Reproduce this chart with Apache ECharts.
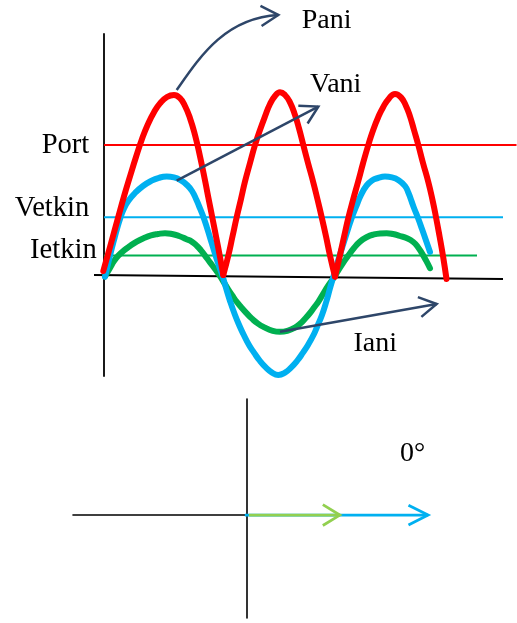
<!DOCTYPE html>
<html>
<head>
<meta charset="utf-8">
<script src="https://cdn.jsdelivr.net/npm/echarts/dist/echarts.min.js"></script>
<style>
html,body{margin:0;padding:0;background:#ffffff;}
#chart{width:517px;height:623px;}
</style>
</head>
<body>
<div id="chart"></div>
<script>
// ---------------- DATA (x: phase angle ωt in degrees, y: amplitude in arbitrary units) ----------------
// Instantaneous power p(t): three arches
const powerArch1 = [[-1.12,0.25],[9.6,1.45],[20.8,2.72],[32,3.98],[41.6,4.98],[51.2,5.95],[60.8,6.85],[70.4,7.6],[80,8.19],[89.6,8.63],[100.8,8.95],[112,9.05],[121.6,8.89],[129.6,8.5],[137.6,7.89],[145.6,7.05],[153.6,5.98],[161.6,4.78],[167.2,3.88],[172.8,3.0],[179.2,1.98],[185.6,0.95],[190.88,0.05]];
const powerArch2 = [[190.88,0.05],[198.88,1.02],[205.6,1.98],[212.32,2.94],[219.2,3.85],[225.6,4.72],[233.6,5.65],[241.6,6.55],[249.6,7.3],[257.6,7.98],[265.6,8.6],[273.6,9.0],[281.6,9.19],[289.6,9.05],[297.6,8.68],[305.6,8.05],[312,7.38],[318.88,6.55],[326.4,5.65],[334.88,4.68],[341.6,3.83],[348.32,2.94],[355.2,1.98],[361.6,1.02],[369.6,-0.03]];
const powerArch3 = [[369.6,-0.03],[377.6,1.05],[384,1.95],[390.88,2.9],[398.4,3.8],[406.88,4.75],[414.4,5.63],[422.88,6.55],[430.4,7.28],[438.88,7.95],[446.4,8.43],[456,8.88],[465.6,9.1],[475.2,8.93],[483.2,8.5],[489.6,7.98],[496,7.3],[502.88,6.55],[510.4,5.65],[518.88,4.7],[525.6,3.8],[531.2,2.94],[536.8,2.0],[542.4,1.0],[548,-0.15]];
// Instantaneous voltage v(t)
const voltage = [[1.6,-0.03],[6.4,0.6],[11.2,1.23],[16,1.8],[20.8,2.35],[25.6,2.85],[32,3.38],[40,3.8],[49.6,4.15],[62.4,4.5],[75.2,4.75],[88,4.91],[100.32,4.97],[112,4.93],[123.2,4.78],[132.8,4.55],[140.8,4.25],[148,3.8],[153.6,3.38],[159.2,2.94],[165.6,2.33],[172,1.68],[178.4,1.03],[184,0.5],[189.6,0],[195.2,-0.6],[201.6,-1.25],[209.6,-1.95],[217.6,-2.55],[222.88,-2.9],[232,-3.45],[240,-3.83],[249.6,-4.25],[259.2,-4.58],[268.8,-4.83],[278.88,-4.95],[289.6,-4.83],[299.2,-4.58],[308.8,-4.25],[318.4,-3.83],[326.4,-3.45],[336,-2.9],[340.8,-2.55],[348.8,-1.95],[356,-1.25],[361.28,-0.65],[366.88,-0.05],[372.48,0.55],[377.92,1.1],[386.88,2.0],[396.32,2.9],[403.2,3.45],[411.2,4.05],[420.32,4.53],[428.8,4.78],[438.4,4.9],[449.6,4.97],[460.8,4.93],[472,4.78],[481.6,4.5],[487.2,4.15],[492.32,3.72],[496,3.4],[502.4,2.9],[508.8,2.35],[515.2,1.78],[521.6,1.2]];
// Instantaneous current i(t)
const current = [[1.6,-0.03],[9.6,0.4],[16,0.75],[22.88,1.02],[32,1.28],[41.6,1.5],[52.32,1.72],[64,1.9],[75.2,2.03],[86.4,2.1],[97.6,2.14],[108.8,2.1],[120,2.0],[131.2,1.85],[140.32,1.72],[148.8,1.5],[155.2,1.28],[161.6,1.02],[169.6,0.68],[177.6,0.35],[185.6,0],[192,-0.33],[198.4,-0.65],[205.6,-0.99],[212.32,-1.29],[219.2,-1.55],[227.2,-1.83],[236.32,-2.12],[246.4,-2.38],[257.6,-2.58],[268.8,-2.73],[281.6,-2.79],[294.4,-2.73],[305.6,-2.58],[315.2,-2.35],[321.6,-2.14],[329.6,-1.85],[336.8,-1.55],[342.88,-1.29],[350.4,-0.9],[358.4,-0.5],[366.88,-0.12],[374.4,0.25],[382.4,0.65],[390.88,1.02],[400,1.4],[409.6,1.72],[420.8,1.95],[432,2.08],[441.6,2.13],[452.32,2.14],[462.4,2.1],[473.6,2.0],[484.8,1.89],[494.88,1.7],[502.4,1.44],[508.8,1.13],[515.2,0.78],[521.6,0.39]];
// Effective (rms) levels
const levelNames  = ['Port', 'Vetkin', 'Ietkin'];
const levelValues = [6.55, 2.94, 1.02];
const levelEnds   = [660, 638.4, 596.8];
// Annotations of the instantaneous curves
const annotationNames = ['Pani', 'Vani', 'Iani'];
// Phasors (magnitude, angle in degrees)
const phasorNames  = ['V', 'I'];
const phasorMagnitudes = [4.95, 2.54];
const phasorAngles = [0, 0];
const phaseShiftLabel = '0°';

// ---------------- STYLE / LAYOUT ----------------
const FONT = '"Liberation Serif", "Times New Roman", serif';
const FS = 28;
const FS_LEVEL = 28.6;
const COL = {red:'#FF0000', blue:'#00B0F0', green:'#00B050', lightGreen:'#92D050', arrow:'#2E4669', axis:'#000000'};
const levelColors = [COL.red, COL.blue, COL.green];
const levelLabelOffsets = [[-14.7,0.5],[-14.7,-9],[-7.3,-5.4]];
const axisBaseline = [[-16,0.05],[638.4,-0.15]];   // slightly tilted time axis as drawn
// annotation arrow geometry in data coordinates (from point on curve, arrow tip, optional bezier controls, text offset px)
const annotationLayout = [
  {from:[116.3,9.3],  to:[278.9,13.05], ctrl:[[153.6,10.97],[193.6,12.9]], text:[23.4,5.8]},
  {from:[116.3,4.77], to:[342.9,8.47],  ctrl:null, text:[-8.3,-22.2]},
  {from:[281.6,-2.79], to:[532.3,-1.4], ctrl:null, text:[-83.3,39.7]}
];
const phasorColors = [COL.blue, COL.lightGreen];
const phaseLabelOffset = [-28, -61];

function chevron(tip, prev, len, ang, color, lw) {
  const dx = tip[0]-prev[0], dy = tip[1]-prev[1];
  const d = Math.hypot(dx, dy) || 1;
  const bx = -dx/d, by = -dy/d;
  const c = Math.cos(ang), s = Math.sin(ang);
  const a1 = [tip[0] + len*(bx*c - by*s), tip[1] + len*(bx*s + by*c)];
  const a2 = [tip[0] + len*(bx*c + by*s), tip[1] + len*(-bx*s + by*c)];
  return {type:'polyline', shape:{points:[a1, tip, a2]}, style:{stroke:color, lineWidth:lw, fill:null, lineJoin:'miter', lineCap:'butt'}};
}

const axisHidden = {axisTick:{show:false}, axisLabel:{show:false}, splitLine:{show:false}};

const series = [];
// tilted time axis
series.push({type:'line', name:'axis', xAxisIndex:0, yAxisIndex:0, data:axisBaseline, symbol:'none', clip:false, silent:true,
  lineStyle:{color:COL.axis, width:1.8}, z:1});
// level lines
levelNames.forEach((n, i) => {
  series.push({
    type:'line', name:n, xAxisIndex:0, yAxisIndex:0,
    data:[[0, levelValues[i]], [levelEnds[i], levelValues[i]]],
    symbol:'none', clip:false, silent:true,
    lineStyle:{color:levelColors[i], width:2}, z:2
  });
});
// curves
series.push({type:'line', name:'i', xAxisIndex:0, yAxisIndex:0, data:current, symbol:'none', smooth:0.5, clip:false,
  lineStyle:{color:COL.green, width:6, cap:'round', join:'round'}, z:3});
series.push({type:'line', name:'v', xAxisIndex:0, yAxisIndex:0, data:voltage, symbol:'none', smooth:0.5, clip:false,
  lineStyle:{color:COL.blue, width:6, cap:'round', join:'round'}, z:4});
[powerArch1, powerArch2, powerArch3].forEach((arch, k) => {
  series.push({type:'line', name:'p'+k, xAxisIndex:0, yAxisIndex:0, data:arch, symbol:'none', smooth:0.5, clip:false,
    lineStyle:{color:COL.red, width:6, cap:'round', join:'round'}, z:5});
});
// level labels
series.push({
  type:'custom', name:'levelLabels', xAxisIndex:0, yAxisIndex:0, clip:false, silent:true, z:6,
  data: levelValues.map(v => [0, v]),
  renderItem: function(params, api) {
    const i = params.dataIndex;
    const p = api.coord([0, levelValues[i]]);
    return {type:'text', x:p[0] + levelLabelOffsets[i][0], y:p[1] + levelLabelOffsets[i][1],
      style:{text:levelNames[i], fontFamily:FONT, fontSize:FS_LEVEL, fill:'#000', align:'right', verticalAlign:'middle'}};
  }
});
// annotation arrows
series.push({
  type:'custom', name:'annotations', xAxisIndex:0, yAxisIndex:0, clip:false, silent:true, z:7,
  data: annotationLayout.map(a => a.from),
  renderItem: function(params, api) {
    const a = annotationLayout[params.dataIndex];
    const p0 = api.coord(a.from), p3 = api.coord(a.to);
    const children = [];
    let prev = p0;
    if (a.ctrl) {
      const c1 = api.coord(a.ctrl[0]), c2 = api.coord(a.ctrl[1]);
      children.push({type:'bezierCurve', shape:{x1:p0[0],y1:p0[1],x2:p3[0],y2:p3[1],cpx1:c1[0],cpy1:c1[1],cpx2:c2[0],cpy2:c2[1]},
        style:{stroke:COL.arrow, lineWidth:2.5, fill:null}});
      prev = c2;
    } else {
      children.push({type:'line', shape:{x1:p0[0],y1:p0[1],x2:p3[0],y2:p3[1]}, style:{stroke:COL.arrow, lineWidth:2.5}});
    }
    children.push(chevron(p3, prev, 20, Math.PI/6, COL.arrow, 2.5));
    children.push({type:'text', x:p3[0]+a.text[0], y:p3[1]+a.text[1],
      style:{text:annotationNames[params.dataIndex], fontFamily:FONT, fontSize:FS, fill:'#000', align:'left', verticalAlign:'middle'}});
    return {type:'group', children:children};
  }
});
// phasors
series.push({
  type:'custom', name:'phasors', xAxisIndex:1, yAxisIndex:1, clip:false, silent:true, z:7,
  data: phasorMagnitudes.map((m, i) => [m*Math.cos(phasorAngles[i]*Math.PI/180), m*Math.sin(phasorAngles[i]*Math.PI/180)]),
  renderItem: function(params, api) {
    const i = params.dataIndex;
    const o = api.coord([0, 0]);
    const tip = api.coord([api.value(0), api.value(1)]);
    const col = phasorColors[i];
    const children = [
      {type:'line', shape:{x1:o[0]-(i === 0 ? 2 : -2), y1:o[1], x2:tip[0], y2:tip[1]}, style:{stroke:col, lineWidth:2.8}},
      chevron(tip, o, i === 0 ? 22 : 20, i === 0 ? 0.47 : 0.55, col, 2.8)
    ];
    if (i === 0) {
      children.push({type:'text', x:tip[0]+phaseLabelOffset[0], y:tip[1]+phaseLabelOffset[1],
        style:{text:phaseShiftLabel, fontFamily:FONT, fontSize:FS, fill:'#000', align:'left', verticalAlign:'middle'}});
    }
    return {type:'group', children:children};
  }
});

const option = {
  animation:false,
  backgroundColor:'#ffffff',
  grid:[
    {left:91.5, top:34, width:425, height:342},
    {left:73, top:399, width:354, height:219}
  ],
  xAxis:[
    Object.assign({type:'value', gridIndex:0, min:-20, max:660, axisLine:{show:false}}, axisHidden),
    Object.assign({type:'value', gridIndex:1, min:-4.75, max:4.92,
      axisLine:{show:true, onZero:true, lineStyle:{color:COL.axis, width:1.6}}}, axisHidden)
  ],
  yAxis:[
    Object.assign({type:'value', gridIndex:0, min:-5, max:12.1,
      axisLine:{show:true, onZero:true, lineStyle:{color:COL.axis, width:1.8}}}, axisHidden),
    Object.assign({type:'value', gridIndex:1, min:-2.81, max:3.17,
      axisLine:{show:true, onZero:true, lineStyle:{color:COL.axis, width:1.6}}}, axisHidden)
  ],
  series:series
};

const chart = echarts.init(document.getElementById('chart'), null, {renderer:'canvas'});
chart.setOption(option);
</script>
</body>
</html>
